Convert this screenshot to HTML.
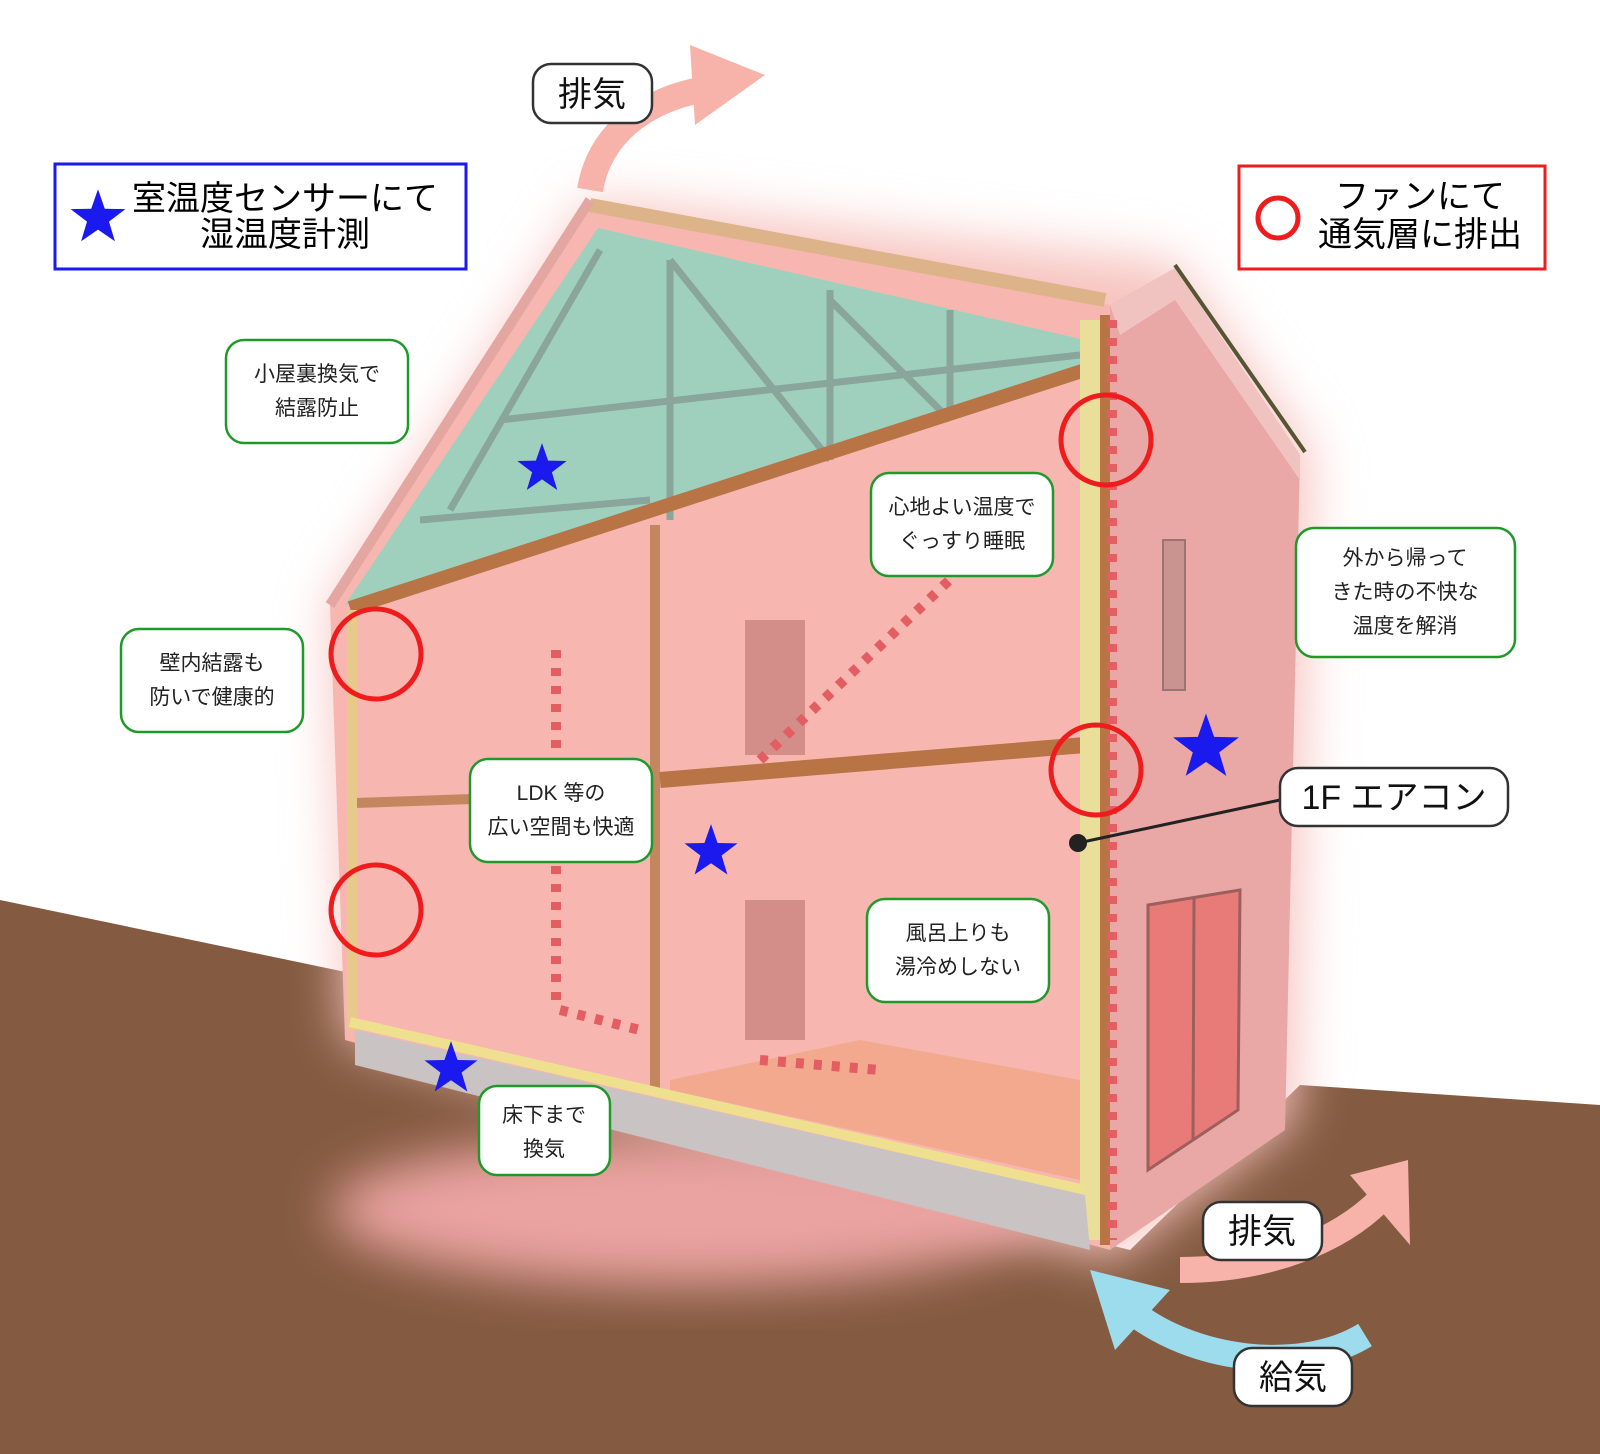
<!DOCTYPE html>
<html><head><meta charset="utf-8"><style>
body{margin:0;background:#fff}
svg{display:block}
text{font-family:"Liberation Sans","Noto Sans CJK JP",sans-serif}
</style></head><body>
<svg width="1600" height="1454" viewBox="0 0 1600 1454">
<defs>
<filter id="b" x="-30%" y="-30%" width="160%" height="160%"><feGaussianBlur stdDeviation="25"/></filter>
<filter id="b2" x="-30%" y="-30%" width="160%" height="160%"><feGaussianBlur stdDeviation="12"/></filter>
<symbol id="star" viewBox="-50 -50 100 100"><polygon fill="#1a1aee" points="0,-48 11.3,-15.5 45.7,-14.8 18.3,6 28.2,38.8 0,19.3 -28.2,38.8 -18.3,6 -45.7,-14.8 -11.3,-15.5"/></symbol>
</defs>
<rect width="1600" height="1454" fill="#fff"/>
<!-- ground -->
<polygon points="0,900 360,975 360,1060 1130,1250 1300,1085 1600,1105 1600,1454 0,1454" fill="#845a40"/>
<!-- glow -->
<polygon points="590,200 1175,262 1310,450 1295,1120 1110,1260 345,1040 330,605" fill="#f7c4c0" filter="url(#b)"/>
<ellipse cx="690" cy="1210" rx="360" ry="75" fill="#eaa3a0" filter="url(#b)"/>
<!-- right face -->
<polygon points="1110,305 1175,268 1300,455 1285,1130 1110,1250" fill="#e9a8a6"/>
<polygon points="1110,305 1175,268 1300,455 1300,480 1175,300 1120,335" fill="#f1c3c0"/>
<line x1="1175" y1="265" x2="1305" y2="452" stroke="#553" stroke-width="4"/>
<rect x="1163" y="540" width="22" height="150" fill="#c9938f" stroke="#9c7370" stroke-width="2"/>
<polygon points="1148,905 1240,890 1238,1110 1148,1170" fill="#e87b78" stroke="#9c5f5c" stroke-width="3"/>
<line x1="1194" y1="898" x2="1193" y2="1140" stroke="#9c5f5c" stroke-width="3"/>
<!-- front face -->
<polygon points="590,205 1110,305 1110,1250 345,1040 330,605" fill="#f7b6b0"/>
<polygon points="598,228 1085,340 1085,370 345,605" fill="#9fd0bd"/>
<g stroke="#8aa59b" stroke-width="7" fill="none">
<line x1="670" y1="260" x2="670" y2="520"/><line x1="830" y1="290" x2="830" y2="460"/><line x1="950" y1="310" x2="950" y2="420"/>
<line x1="500" y1="420" x2="1080" y2="355"/><line x1="600" y1="250" x2="450" y2="510"/><line x1="670" y1="260" x2="830" y2="460"/>
<line x1="830" y1="300" x2="950" y2="420"/><line x1="420" y1="520" x2="650" y2="500"/>
</g>
<line x1="590" y1="205" x2="1105" y2="300" stroke="#ddb38a" stroke-width="14"/>
<line x1="590" y1="200" x2="330" y2="605" stroke="#e4a6a0" stroke-width="10"/>
<line x1="350" y1="608" x2="1085" y2="370" stroke="#b87445" stroke-width="14"/>
<line x1="655" y1="525" x2="655" y2="1090" stroke="#c4865e" stroke-width="10"/>
<line x1="660" y1="780" x2="1085" y2="745" stroke="#b87445" stroke-width="16"/>
<line x1="355" y1="803" x2="650" y2="793" stroke="#c4865e" stroke-width="10"/>
<rect x="1080" y="320" width="28" height="920" fill="#e9df9a"/>
<rect x="1100" y="315" width="10" height="930" fill="#b87445"/>
<line x1="352" y1="610" x2="352" y2="1030" stroke="#e7c98a" stroke-width="10"/>
<line x1="350" y1="1022" x2="1085" y2="1190" stroke="#efe08f" stroke-width="10"/>
<polygon points="355,1030 1085,1195 1090,1250 355,1065" fill="#c9c3c3"/>
<rect x="745" y="620" width="60" height="135" fill="#d48e89"/>
<rect x="745" y="900" width="60" height="140" fill="#d48e89"/>
<polygon points="670,1080 860,1040 1080,1080 1080,1180 670,1090" fill="#f0a480" opacity=".7"/>
<g stroke="#e35e63" stroke-width="10" stroke-dasharray="8,10" fill="none">
<line x1="556" y1="650" x2="556" y2="1000"/>
<line x1="760" y1="760" x2="960" y2="570"/>
<line x1="560" y1="1010" x2="640" y2="1030"/>
<line x1="760" y1="1060" x2="880" y2="1070"/>
<line x1="1112" y1="320" x2="1112" y2="1240"/>
</g>
<!-- arrows -->
<path d="M590,190 C600,130 650,100 700,90" stroke="#f7b2aa" stroke-width="26" fill="none"/>
<polygon points="690,45 765,75 695,125" fill="#f7b2aa"/>
<path d="M1180,1270 C1270,1270 1340,1240 1380,1200" stroke="#f7b2aa" stroke-width="26" fill="none"/>
<polygon points="1350,1175 1408,1160 1410,1245" fill="#f7b2aa"/>
<path d="M1365,1335 C1300,1375 1190,1360 1130,1310" stroke="#9ddcec" stroke-width="26" fill="none"/>
<polygon points="1090,1270 1170,1290 1115,1350" fill="#9ddcec"/>
<!-- circles -->
<g fill="none" stroke="#ee1c1c" stroke-width="5">
<circle cx="1106" cy="440" r="45"/><circle cx="376" cy="654" r="45"/><circle cx="1096" cy="770" r="45"/><circle cx="376" cy="910" r="45"/>
</g>
<use href="#star" x="515" y="442" width="54" height="54"/>
<use href="#star" x="682" y="823" width="58" height="58"/>
<use href="#star" x="1170" y="712" width="72" height="72"/>
<use href="#star" x="422" y="1040" width="58" height="58"/>
<!-- legend boxes -->
<rect x="55" y="164" width="411" height="105" fill="#fff" stroke="#1a1aee" stroke-width="3"/>
<use href="#star" x="68" y="188" width="60" height="60"/>
<text x="285" y="210" font-size="34" text-anchor="middle">室温度センサーにて</text>
<text x="285" y="246" font-size="34" text-anchor="middle">湿温度計測</text>
<rect x="1239" y="166" width="306" height="103" fill="#fff" stroke="#ee1c1c" stroke-width="3"/>
<circle cx="1278" cy="218" r="20" fill="none" stroke="#ee1c1c" stroke-width="5"/>
<text x="1420" y="208" font-size="34" text-anchor="middle">ファンにて</text>
<text x="1420" y="246" font-size="34" text-anchor="middle">通気層に排出</text>
<!-- green boxes -->
<g fill="#fff" stroke="#1f9a2a" stroke-width="2.5">
<rect x="226" y="340" width="182" height="103" rx="18"/>
<rect x="121" y="629" width="182" height="103" rx="18"/>
<rect x="470" y="759" width="182" height="103" rx="18"/>
<rect x="871" y="473" width="182" height="103" rx="18"/>
<rect x="1296" y="528" width="219" height="129" rx="18"/>
<rect x="867" y="899" width="182" height="103" rx="18"/>
<rect x="479" y="1086" width="131" height="89" rx="18"/>
</g>
<g font-size="21" text-anchor="middle" fill="#222">
<text x="317" y="381">小屋裏換気で</text><text x="317" y="415">結露防止</text>
<text x="212" y="670">壁内結露も</text><text x="212" y="704">防いで健康的</text>
<text x="561" y="800">LDK 等の</text><text x="561" y="834">広い空間も快適</text>
<text x="962" y="514">心地よい温度で</text><text x="962" y="548">ぐっすり睡眠</text>
<text x="1405" y="565">外から帰って</text><text x="1405" y="599">きた時の不快な</text><text x="1405" y="633">温度を解消</text>
<text x="958" y="940">風呂上りも</text><text x="958" y="974">湯冷めしない</text>
<text x="544" y="1122">床下まで</text><text x="544" y="1156">換気</text>
</g>
<!-- black label boxes -->
<line x1="1280" y1="800" x2="1078" y2="843" stroke="#222" stroke-width="3"/>
<circle cx="1078" cy="843" r="9" fill="#222"/>
<g fill="#fff" stroke="#333" stroke-width="2.5">
<rect x="533" y="64" width="119" height="59" rx="18"/>
<rect x="1280" y="768" width="228" height="58" rx="18"/>
<rect x="1203" y="1202" width="119" height="58" rx="18"/>
<rect x="1234" y="1348" width="118" height="58" rx="18"/>
</g>
<g font-size="34" text-anchor="middle" fill="#111">
<text x="592" y="106">排気</text>
<text x="1394" y="809">1F エアコン</text>
<text x="1262" y="1243">排気</text>
<text x="1293" y="1389">給気</text>
</g>
</svg>
</body></html>
